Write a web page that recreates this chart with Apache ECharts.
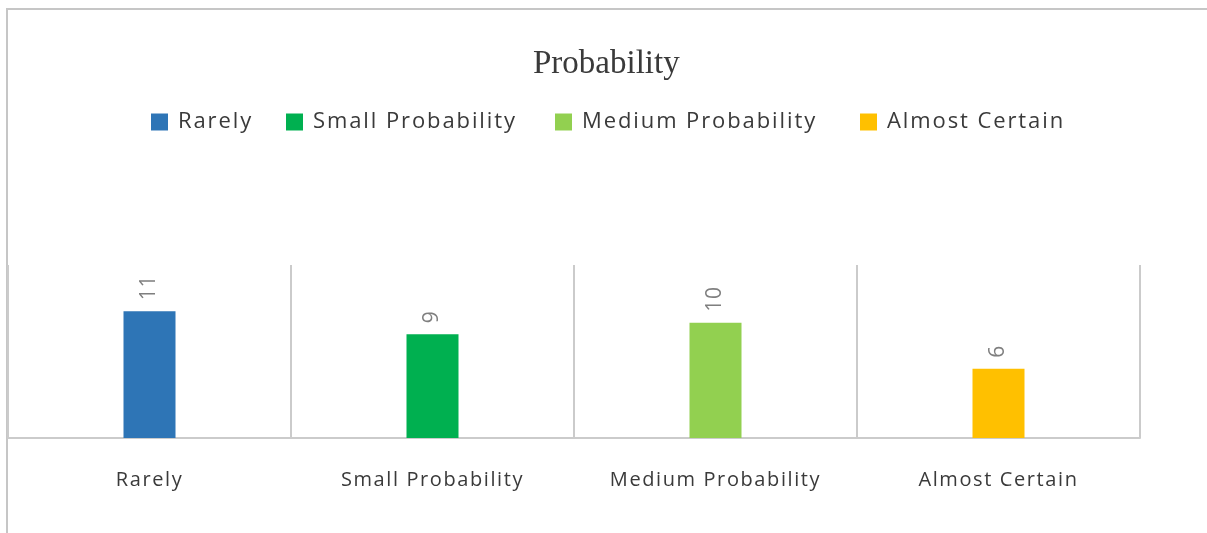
<!DOCTYPE html>
<html>
<head>
<meta charset="utf-8">
<script src="https://cdn.jsdelivr.net/npm/echarts@6/dist/echarts.min.js"></script>
<style>
  html, body { margin: 0; padding: 0; background: #fff; }
  #chart { width: 1207px; height: 533px; }
</style>
</head>
<body>
<div id="chart"></div>
<script>
// Categories, counts and bar colours
const categories = ['Rarely', 'Small Probability', 'Medium Probability', 'Almost Certain'];
const counts = [11, 9, 10, 6];
const barColors = ['#2E75B6', '#00B050', '#92D050', '#FFC000'];
const legendLeft = [151, 286, 555, 860];

// Letter spacing per font size for the sans-serif labels
const spacingBySize = { '22px': '1.9px', '20px': '1.6px', '21px': '0.6px' };
const baseFillText = CanvasRenderingContext2D.prototype.fillText;
CanvasRenderingContext2D.prototype.fillText = function (text, x, y, maxWidth) {
  let spacing = '0px';
  if (/Open Sans/.test(this.font)) {
    const m = this.font.match(/(\d+)px/);
    if (m && spacingBySize[m[0]]) spacing = spacingBySize[m[0]];
  }
  this.letterSpacing = spacing;
  return maxWidth === undefined
    ? baseFillText.call(this, text, x, y)
    : baseFillText.call(this, text, x, y, maxWidth);
};

const gridColor = '#cbcbcb';
const sans = 'Open Sans';

const chart = echarts.init(document.getElementById('chart'));

const series = categories.map((name, i) => ({
  name: name,
  type: 'bar',
  stack: 'probability',
  barWidth: 52,
  itemStyle: { color: barColors[i] },
  label: {
    show: true,
    position: 'top',
    rotate: 90,
    align: 'left',
    verticalAlign: 'middle',
    distance: 11,
    color: '#7f7f7f',
    fontFamily: sans,
    fontSize: 21
  },
  data: counts.map((v, j) => (j === i ? v : '-'))
}));

const legends = categories.map((name, i) => ({
  data: [name],
  left: legendLeft[i],
  top: 111,
  padding: 0,
  icon: 'rect',
  itemWidth: 17,
  itemHeight: 17,
  selectedMode: false,
  textStyle: {
    color: '#3a3a3a',
    fontFamily: sans,
    fontSize: 22,
    padding: [0, 0, 0, 5]
  }
}));

chart.setOption({
  animation: false,
  backgroundColor: '#ffffff',
  title: {
    text: 'Probability',
    left: 533,
    top: 48,
    padding: 0,
    textStyle: {
      fontFamily: 'Liberation Serif',
      fontSize: 33,
      fontWeight: 'normal',
      color: '#3a3a3a'
    }
  },
  legend: legends,
  grid: { left: 8, right: 67, top: 265, bottom: 95 },
  xAxis: {
    type: 'category',
    data: categories,
    axisLine: { lineStyle: { color: gridColor, width: 2 } },
    axisTick: { show: false },
    splitLine: { show: true, interval: 0, lineStyle: { color: gridColor, width: 2 } },
    axisLabel: {
      interval: 0,
      margin: 32,
      color: '#3a3a3a',
      fontFamily: sans,
      fontSize: 20
    }
  },
  yAxis: {
    type: 'value',
    min: 0,
    max: 15,
    show: false,
    splitLine: { show: false }
  },
  graphic: [{
    type: 'rect',
    silent: true,
    z: -1,
    shape: { x: 7, y: 9, width: 1400, height: 800 },
    style: { fill: 'none', stroke: '#c6c6c6', lineWidth: 2 }
  }],
  series: series
});
</script>
</body>
</html>
